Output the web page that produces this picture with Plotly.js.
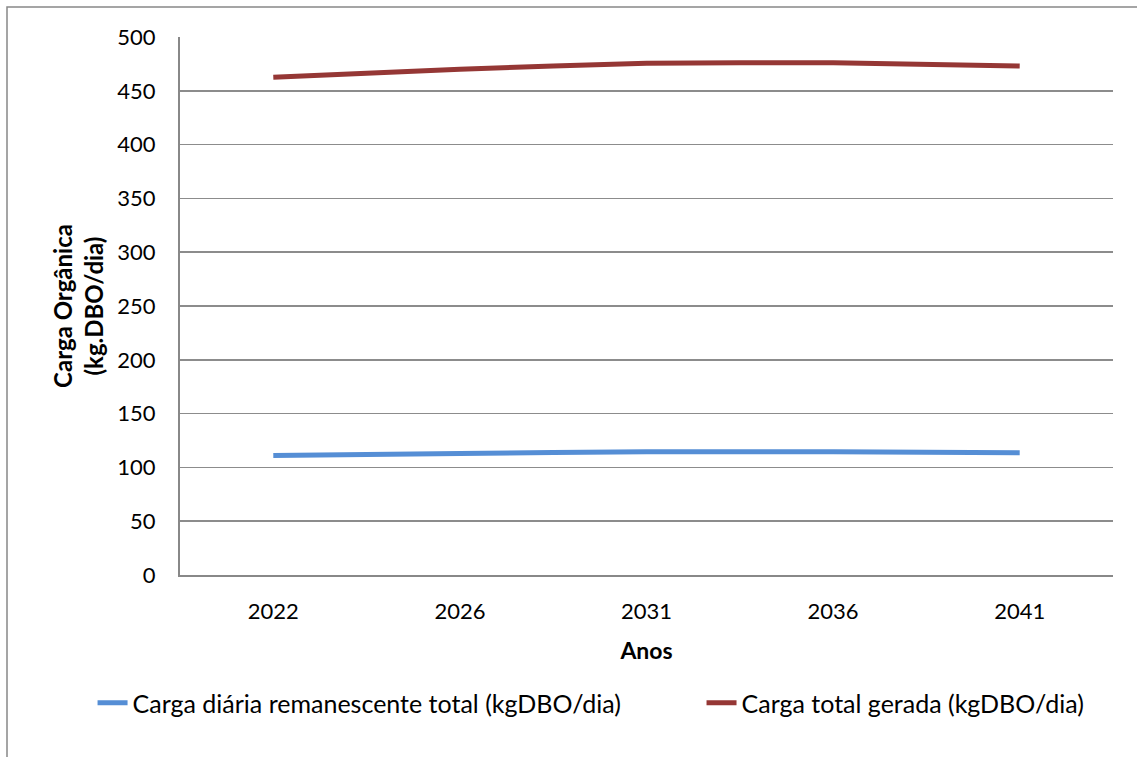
<!DOCTYPE html>
<html>
<head>
<meta charset="utf-8">
<script src="https://cdn.plot.ly/plotly-3.0.1.min.js"></script>
<style>
html,body{margin:0;padding:0;background:#fff;overflow:hidden;}
#chart{width:1137px;height:757px;}
</style>
</head>
<body>
<div id="chart"></div>
<script>
const anos = ["2022", "2026", "2031", "2036", "2041"];
const cargaRemanescente = [111, 113, 114.5, 114.5, 113.5];
const cargaTotal = [462.5, 470, 475.5, 476, 473];
const yTicks = [0, 50, 100, 150, 200, 250, 300, 350, 400, 450, 500];

const FONT = "Lato, 'Open Sans', sans-serif";

const traces = [
  {
    x: anos, y: cargaRemanescente, type: "scatter", mode: "lines",
    name: "Carga diária remanescente total (kgDBO/dia)",
    legend: "legend",
    line: {color: "#558ED5", width: 5, shape: "spline", smoothing: 0.6}
  },
  {
    x: anos, y: cargaTotal, type: "scatter", mode: "lines",
    name: "Carga total gerada (kgDBO/dia)",
    legend: "legend2",
    line: {color: "#953735", width: 5, shape: "spline", smoothing: 0.6}
  }
];

const legendBase = {
  orientation: "h", xref: "container", yref: "container",
  xanchor: "left", y: 0.0713, yanchor: "middle",
  bgcolor: "rgba(0,0,0,0)",
  font: {family: FONT, size: 25, color: "#000"}
};

const layout = {
  width: 1137, height: 757,
  margin: {l: 180, r: 24, t: 37, b: 182},
  paper_bgcolor: "#fff", plot_bgcolor: "#fff",
  font: {family: FONT, size: 22, color: "#000"},
  showlegend: true,
  legend: Object.assign({}, legendBase, {x: 0.0814}),
  legend2: Object.assign({}, legendBase, {x: 0.617}),
  xaxis: {
    type: "category", categoryorder: "array", categoryarray: anos,
    range: [-0.5, 4.5],
    showgrid: false, showline: true, linecolor: "#888", linewidth: 2,
    ticks: "", ticklabelstandoff: 16,
    tickfont: {family: FONT, size: 22},
    title: {text: "<b>Anos</b>", font: {family: FONT, size: 23}, standoff: 19},
    zeroline: false, fixedrange: true
  },
  yaxis: {
    range: [0, 500], tickvals: yTicks, ticktext: yTicks.map(String),
    showgrid: true, gridcolor: "#8c8c8c", gridwidth: 1.5,
    showline: true, linecolor: "#888", linewidth: 2,
    ticks: "", ticklabelstandoff: 18,
    tickfont: {family: FONT, size: 22},
    title: {text: "<b>Carga Orgânica<br>(kg.DBO/dia)</b>", font: {family: FONT, size: 24}, standoff: 7},
    zeroline: false, fixedrange: true
  },
  shapes: [
    {type: "rect", xref: "paper", yref: "paper",
     x0: (7 - 180) / 933, x1: (1145 - 180) / 933,
     y0: (575 - 765) / 538, y1: (575 - 7) / 538,
     line: {color: "#888", width: 1.5}, fillcolor: "rgba(0,0,0,0)", layer: "below"}
  ]
};

Plotly.newPlot("chart", traces, layout, {displayModeBar: false, staticPlot: true});
</script>
</body>
</html>
